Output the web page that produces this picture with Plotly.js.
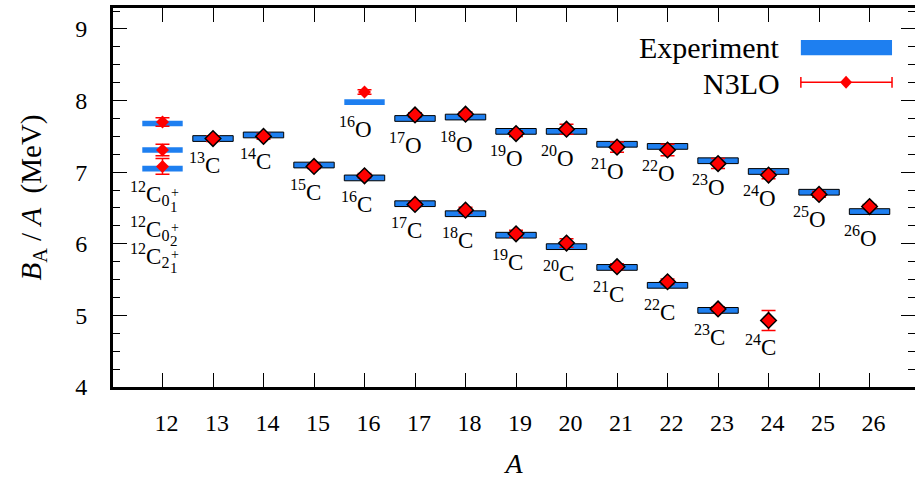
<!DOCTYPE html>
<html>
<head>
<meta charset="utf-8">
<script src="https://cdn.plot.ly/plotly-3.0.1.min.js"></script>
<style>html,body{margin:0;padding:0;background:#fff;}#chart{width:915px;height:479px;}</style>
</head>
<body>
<div id="chart"></div>
<script>
// ---- data ----
const massTicks = [12,13,14,15,16,17,18,19,20,21,22,23,24,25,26];

const carbonExpA = [13,14,15,16,17,18,19,20,21,22,23];
const carbonExp  = [7.47,7.52,7.10,6.92,6.56,6.42,6.12,5.96,5.67,5.42,5.07];
const carbonThA  = [13,14,15,16,17,18,19,20,21,22,23,24];
const carbonTh   = [7.47,7.50,7.08,6.95,6.55,6.47,6.14,6.01,5.68,5.47,5.09,4.93];
const carbonThErr= [0.04,0.04,0.03,0.03,0.03,0.04,0.05,0.06,0.04,0.04,0.03,0.14];

const oxygenA    = [17,18,19,20,21,22,23,24,25,26];
const oxygenExp  = [7.75,7.77,7.57,7.57,7.39,7.36,7.16,7.01,6.72,6.45];
const oxygenTh   = [7.80,7.81,7.54,7.60,7.35,7.31,7.12,6.96,6.69,6.52];
const oxygenThErr= [0.03,0.03,0.04,0.07,0.07,0.08,0.07,0.05,0.04,0.03];

// 12C states (0_1+, 2_1+, 0_2+) and 16O
const c12A       = [12,12,12];
const c12Exp     = [7.68,7.31,7.05];
const c12Th      = [7.70,7.31,7.08];
const c12ThErr   = [0.06,0.08,0.11];
const o16A       = [16];
const o16Exp     = [7.98];
const o16Th      = [8.12];
const o16ThErr   = [0.03];

const c12StateLabels = [["0","1"],["0","2"],["2","1"]];
const c12LabelY  = [6.70,6.22,5.84];

// ---- style ----
const FONT = '"Liberation Serif", "Times New Roman", Times, serif';
const BLUE = "#1e7ff0";
const RED = "#ff0000";
const BAR_W = 0.8, BAR_H = 0.08;

function expBars(xs, vs, outlined){
  return {type:"bar", x:xs, y:vs.map(()=>BAR_H), base:vs.map(v=>v-BAR_H/2),
    width:BAR_W, marker:{color:BLUE, line:{color:"black", width: outlined?1:0}},
    showlegend:false, hoverinfo:"skip"};
}
function thPoints(xs, vs, errs, outlined){
  return {type:"scatter", mode:"markers", x:xs, y:vs,
    error_y:{type:"data", array:errs, visible:true, color:RED, thickness:1.5, width:7},
    marker:{symbol:"diamond", color:RED, size: outlined?12:10,
      line:{color:"black", width: outlined?1.5:0}},
    showlegend:false, hoverinfo:"skip"};
}

const traces = [
  expBars(carbonExpA, carbonExp, true),
  expBars(oxygenA, oxygenExp, true),
  expBars(c12A.concat(o16A), c12Exp.concat(o16Exp), false),
  thPoints(c12A.concat(o16A), c12Th.concat(o16Th), c12ThErr.concat(o16ThErr), false),
  thPoints(carbonThA, carbonTh, carbonThErr, true),
  thPoints(oxygenA, oxygenTh, oxygenThErr, true)
];

const annotations = [];
function isoLabel(a, v, el){
  annotations.push({x:a, y:v, xref:"x", yref:"y", text:"<sup>"+a+"</sup>"+el,
    showarrow:false, xanchor:"right", yanchor:"middle", xshift:9, yshift:-25,
    font:{family:FONT, size:23, color:"black"}});
}
carbonThA.forEach((a,i)=>{
  const j = carbonExpA.indexOf(a);
  isoLabel(a, j>=0 ? carbonExp[j] : carbonTh[i], "C");
});
isoLabel(16, o16Exp[0], "O");
oxygenA.forEach((a,i)=> isoLabel(a, oxygenExp[i], "O"));

c12StateLabels.forEach((s,i)=>{
  annotations.push({x:12, y:c12LabelY[i], xref:"x", yref:"y",
    text:"<sup>12</sup>C<sub>"+s[0]+"</sub>", showarrow:false,
    xanchor:"left", yanchor:"middle", xshift:-34,
    font:{family:FONT, size:23, color:"black"}});
  annotations.push({x:12, y:c12LabelY[i], xref:"x", yref:"y",
    text:"+", showarrow:false, xanchor:"center", yanchor:"middle", xshift:13, yshift:1,
    font:{family:FONT, size:14, color:"black"}});
  annotations.push({x:12, y:c12LabelY[i], xref:"x", yref:"y",
    text:s[1], showarrow:false, xanchor:"center", yanchor:"middle", xshift:12, yshift:-13,
    font:{family:FONT, size:15, color:"black"}});
});

// custom legend (text left of symbols, as in the reference)
annotations.push({x:24.27, y:8.735, xref:"x", yref:"y", text:"Experiment", showarrow:false,
  xanchor:"right", yanchor:"middle", font:{family:FONT, size:30, color:"black"}});
annotations.push({x:24.27, y:8.235, xref:"x", yref:"y", text:"N3LO", showarrow:false,
  xanchor:"right", yanchor:"middle", font:{family:FONT, size:30, color:"black"}});

const shapes = [
  {type:"rect", xref:"x", yref:"y", x0:24.64, x1:26.445, y0:8.633, y1:8.846,
   fillcolor:BLUE, line:{width:0}},
  {type:"line", xref:"x", yref:"y", x0:24.64, x1:26.445, y0:8.256, y1:8.256, line:{color:RED, width:1.5}},
  {type:"line", xref:"x", yref:"y", x0:24.64, x1:24.64, y0:8.18, y1:8.33, line:{color:RED, width:1.5}},
  {type:"line", xref:"x", yref:"y", x0:26.445, x1:26.445, y0:8.18, y1:8.33, line:{color:RED, width:1.5}},
  {type:"path", xref:"x", yref:"y",
   path:"M 25.416 8.256 L 25.535 8.347 L 25.654 8.256 L 25.535 8.165 Z",
   fillcolor:RED, line:{width:0}}
];

const layout = {
  width:915, height:479,
  margin:{l:113, r:0, t:8, b:92},
  paper_bgcolor:"white", plot_bgcolor:"white",
  barmode:"overlay",
  showlegend:false,
  font:{family:FONT, color:"black"},
  xaxis:{range:[11.02, 26.90], tickvals:massTicks, ticktext:massTicks.map(String),
    ticks:"inside", ticklen:14, tickwidth:1, tickcolor:"black",
    mirror:"ticks", showline:true, linewidth:3, linecolor:"black",
    showgrid:false, zeroline:false,
    tickfont:{family:FONT, size:24, color:"black"},
    ticklabelstandoff:12, ticklabelshift:4,
    title:{text:"<i>A</i>", font:{family:FONT, size:28, color:"black"}, standoff:22}},
  yaxis:{range:[4, 9.293], dtick:1, tick0:4,
    ticks:"inside", ticklen:14, tickwidth:1, tickcolor:"black",
    minor:{dtick:0.25, ticks:"inside", ticklen:7, tickwidth:1, tickcolor:"black", showgrid:false},
    mirror:"ticks", showline:true, linewidth:3, linecolor:"black",
    showgrid:false, zeroline:false,
    tickfont:{family:FONT, size:24, color:"black"},
    ticklabelstandoff:18,
    title:{text:"<i>B</i><sub>A</sub> / <i>A</i>&nbsp;&nbsp;(MeV)", font:{family:FONT, size:29, color:"black"}, standoff:26}},
  annotations:annotations,
  shapes:shapes
};

Plotly.newPlot("chart", traces, layout, {staticPlot:true, displayModeBar:false});
</script>
</body>
</html>
